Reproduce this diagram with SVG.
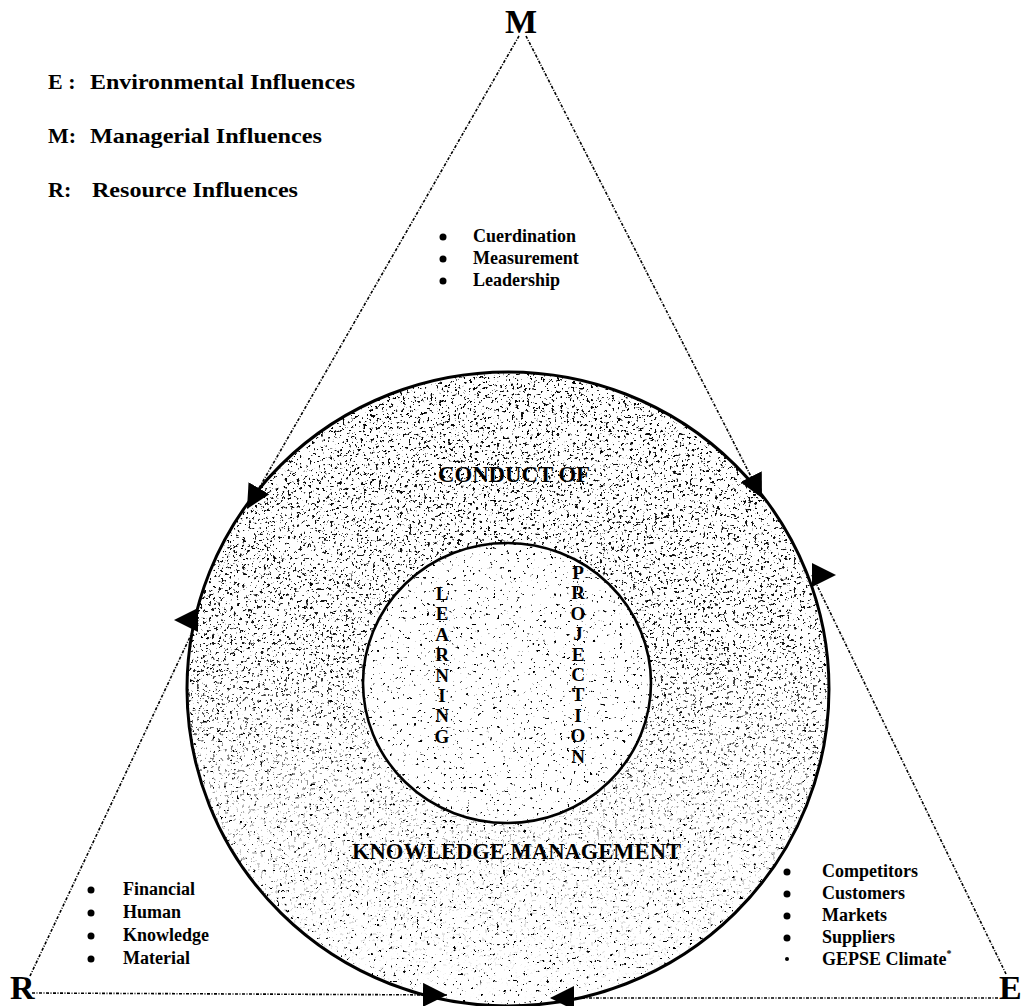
<svg xmlns="http://www.w3.org/2000/svg" width="1024" height="1006" viewBox="0 0 1024 1006">
  <style>
    .legend { font-family: "Liberation Serif", "Times New Roman", serif; font-weight: bold; font-size: 22px; fill: #000; }
    .vertex { font-family: "Liberation Serif", "Times New Roman", serif; font-weight: bold; font-size: 34px; fill: #000; }
    .item { font-family: "Liberation Serif", "Times New Roman", serif; font-weight: bold; font-size: 18px; fill: #000; }
    .dot { fill: #000; }
    .title { font-family: "Liberation Serif", "Times New Roman", serif; font-weight: bold; font-size: 23px; fill: #000; }
    .stack { font-family: "Liberation Serif", "Times New Roman", serif; font-weight: bold; font-size: 19px; fill: #000; text-anchor: middle; }
    .influence { fill: none; stroke: #000; stroke-width: 1.6; stroke-dasharray: 3 1.5 1 1.5; }
    .rim { fill: none; stroke: #000; }
  </style>
  <defs>
    <!-- arrowhead whose tip sits on the line end, following the line -->
    <marker id="head" viewBox="0 0 24 24" refX="24" refY="12" markerWidth="24" markerHeight="24" markerUnits="userSpaceOnUse" orient="auto">
      <path d="M0 0 L24 12 L0 24 Z" fill="#000"/>
    </marker>
    <!-- arrowheads with base on the line end, fixed direction -->
    <marker id="headRight" viewBox="0 0 24 24" refX="0" refY="12" markerWidth="24" markerHeight="24" markerUnits="userSpaceOnUse" orient="0">
      <path d="M0 0 L24 12 L0 24 Z" fill="#000"/>
    </marker>
    <marker id="headLeft" viewBox="0 0 24 24" refX="0" refY="12" markerWidth="24" markerHeight="24" markerUnits="userSpaceOnUse" orient="180">
      <path d="M0 0 L24 12 L0 24 Z" fill="#000"/>
    </marker>

    <!-- printed stipple shading -->
    <filter id="grainLight" filterUnits="userSpaceOnUse" x="180" y="360" width="670" height="660" color-interpolation-filters="sRGB">
      <feTurbulence type="fractalNoise" baseFrequency="0.3" numOctaves="2" seed="11"/>
      <feColorMatrix type="matrix" values="0 0 0 0 0  0 0 0 0 0  0 0 0 0 0  -16 0 0 0 4.9"/>
    </filter>
    <filter id="grainDense" filterUnits="userSpaceOnUse" x="180" y="360" width="670" height="660" color-interpolation-filters="sRGB">
      <feTurbulence type="fractalNoise" baseFrequency="0.33" numOctaves="2" seed="4"/>
      <feColorMatrix type="matrix" values="0 0 0 0 0  0 0 0 0 0  0 0 0 0 0  -16 0 0 0 5.8"/>
    </filter>

    <clipPath id="outerDisc">
      <ellipse cx="508" cy="689" rx="321" ry="317"/>
    </clipPath>
    <linearGradient id="fadeDown" x1="0" y1="360" x2="0" y2="1006" gradientUnits="userSpaceOnUse">
      <stop offset="0" stop-color="#fff"/>
      <stop offset="0.45" stop-color="#fff" stop-opacity="0.9"/>
      <stop offset="0.7" stop-color="#fff" stop-opacity="0.3"/>
      <stop offset="1" stop-color="#fff" stop-opacity="0"/>
    </linearGradient>
    <mask id="ringFade" maskUnits="userSpaceOnUse" x="0" y="0" width="1024" height="1006">
      <rect x="180" y="360" width="670" height="660" fill="url(#fadeDown)"/>
      <ellipse cx="507" cy="683" rx="144" ry="140" fill="#000"/>
    </mask>
  </defs>

  <rect width="1024" height="1006" fill="#fff"/>

  <!-- legend -->
  <g id="legend">
    <text class="legend" x="48" y="89">E :</text>
    <text class="legend" x="90" y="89" textLength="265" lengthAdjust="spacingAndGlyphs">Environmental Influences</text>
    <text class="legend" x="48" y="143">M:</text>
    <text class="legend" x="90" y="143" textLength="232" lengthAdjust="spacingAndGlyphs">Managerial Influences</text>
    <text class="legend" x="48" y="197">R:</text>
    <text class="legend" x="92" y="197" textLength="206" lengthAdjust="spacingAndGlyphs">Resource Influences</text>
  </g>

  <!-- knowledge management core: two concentric discs with stipple -->
  <g id="core">
    <g clip-path="url(#outerDisc)">
      <rect x="180" y="360" width="670" height="660" filter="url(#grainLight)"/>
      <g mask="url(#ringFade)">
        <rect x="180" y="360" width="670" height="660" filter="url(#grainDense)"/>
      </g>
    </g>
    <ellipse class="rim" cx="508" cy="689" rx="321" ry="317" stroke-width="3"/>
    <ellipse class="rim" cx="507" cy="683" rx="144" ry="140" stroke-width="2.6"/>
    <text class="title" x="438" y="482" textLength="152" lengthAdjust="spacingAndGlyphs">CONDUCT OF</text>
    <text class="title" x="352" y="859" textLength="329" lengthAdjust="spacingAndGlyphs">KNOWLEDGE MANAGEMENT</text>
  </g>

  <g id="learning">
    <text class="stack" x="442" y="600">L</text>
    <text class="stack" x="442" y="620.4">E</text>
    <text class="stack" x="442" y="640.8">A</text>
    <text class="stack" x="442" y="661.2">R</text>
    <text class="stack" x="442" y="681.6">N</text>
    <text class="stack" x="442" y="702">I</text>
    <text class="stack" x="442" y="722.4">N</text>
    <text class="stack" x="442" y="742.8">G</text>
  </g>

  <g id="projection">
    <text class="stack" x="578" y="579">P</text>
    <text class="stack" x="578" y="599.4">R</text>
    <text class="stack" x="578" y="619.8">O</text>
    <text class="stack" x="578" y="640.2">J</text>
    <text class="stack" x="578" y="660.6">E</text>
    <text class="stack" x="578" y="681">C</text>
    <text class="stack" x="578" y="701.4">T</text>
    <text class="stack" x="578" y="721.8">I</text>
    <text class="stack" x="578" y="742.2">O</text>
    <text class="stack" x="578" y="762.6">N</text>
  </g>

  <!-- influence vertices -->
  <g id="vertex-m">
    <text class="vertex" x="521" y="33" text-anchor="middle">M</text>
  </g>
  <g id="vertex-r">
    <text class="vertex" x="10" y="999" font-size="26">R</text>
  </g>
  <g id="vertex-e">
    <text class="vertex" x="999" y="999" font-size="26">E</text>
  </g>

  <!-- managerial influences -->
  <g id="managerial-list">
    <circle class="dot" cx="443" cy="237" r="3.5"/>
    <text class="item" x="473" y="242">Cuerdination</text>
    <circle class="dot" cx="443" cy="259" r="3.5"/>
    <text class="item" x="473" y="264">Measurement</text>
    <circle class="dot" cx="443" cy="281" r="3.5"/>
    <text class="item" x="473" y="286">Leadership</text>
  </g>

  <!-- resource influences -->
  <g id="resource-list">
    <circle class="dot" cx="91" cy="890" r="3.5"/>
    <text class="item" x="123" y="895">Financial</text>
    <circle class="dot" cx="91" cy="913" r="3.5"/>
    <text class="item" x="123" y="918">Human</text>
    <circle class="dot" cx="91" cy="936" r="3.5"/>
    <text class="item" x="123" y="941">Knowledge</text>
    <circle class="dot" cx="91" cy="959" r="3.5"/>
    <text class="item" x="123" y="964">Material</text>
  </g>

  <!-- environmental influences -->
  <g id="environmental-list">
    <circle class="dot" cx="787" cy="872" r="3.5"/>
    <text class="item" x="822" y="877">Competitors</text>
    <circle class="dot" cx="787" cy="894" r="3.5"/>
    <text class="item" x="822" y="899">Customers</text>
    <circle class="dot" cx="787" cy="916" r="3.5"/>
    <text class="item" x="822" y="921">Markets</text>
    <circle class="dot" cx="787" cy="938" r="3.5"/>
    <text class="item" x="822" y="943">Suppliers</text>
    <circle class="dot" cx="787" cy="959" r="2"/>
    <text class="item" x="822" y="965">GEPSE Climate<tspan font-size="10" dy="-8">*</tspan></text>
  </g>

  <!-- connectors -->
  <g id="connectors">
    <line class="influence" x1="30" y1="976" x2="198" y2="620" marker-end="url(#headLeft)"/>
    <line class="influence" x1="519" y1="36" x2="247" y2="509" marker-end="url(#head)"/>
    <line class="influence" x1="526" y1="36" x2="762" y2="498" marker-end="url(#head)"/>
    <line class="influence" x1="1006" y1="974" x2="812" y2="575" marker-end="url(#headRight)"/>
    <line class="influence" x1="32" y1="993" x2="447" y2="995" marker-end="url(#head)"/>
    <line class="influence" x1="998" y1="998" x2="550" y2="998" marker-end="url(#head)"/>
  </g>
</svg>
